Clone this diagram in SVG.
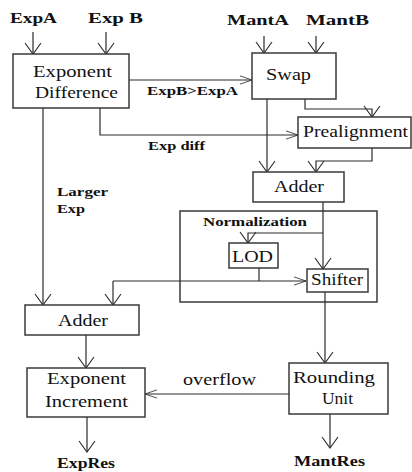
<svg xmlns="http://www.w3.org/2000/svg" width="412" height="472" viewBox="0 0 412 472">
  <style>
    .box { fill: #ffffff; stroke: #3a3a3a; stroke-width: 1.5; }
    .wire { fill: none; stroke: #2a2a2a; stroke-width: 1.2; }
    .lbl { font-size: 16px; fill: #111; }
    .io { font-size: 14px; font-weight: bold; fill: #111; }
    .sig { font-size: 13px; font-weight: bold; fill: #111; }
  </style>
  <defs>
    <marker id="v" markerUnits="userSpaceOnUse" markerWidth="30" markerHeight="30" refX="0" refY="0" viewBox="-15 -15 30 30" orient="auto" overflow="visible">
      <path d="M-11,-8 L0,0 L-11,8" fill="none" stroke="#2a2a2a" stroke-width="1.1"/>
    </marker>
    <marker id="h" markerUnits="userSpaceOnUse" markerWidth="30" markerHeight="30" refX="0" refY="0" viewBox="-20 -15 40 30" orient="auto" overflow="visible">
      <path d="M-16,-5.5 L0,0 L-16,5.5" fill="none" stroke="#2a2a2a" stroke-width="1.1"/>
    </marker>
  </defs>
  <rect width="412" height="472" fill="#ffffff"/>

  <g font-family="Liberation Serif, Times New Roman, serif">
  <!-- input / output labels -->
  <text class="io" x="10" y="23" textLength="47" lengthAdjust="spacingAndGlyphs">ExpA</text>
  <text class="io" x="88" y="23" textLength="55" lengthAdjust="spacingAndGlyphs">Exp B</text>
  <text class="io" x="227" y="25" textLength="62" lengthAdjust="spacingAndGlyphs">MantA</text>
  <text class="io" x="306" y="25" textLength="63" lengthAdjust="spacingAndGlyphs">MantB</text>
  <text class="io" x="57" y="468" textLength="58" lengthAdjust="spacingAndGlyphs">ExpRes</text>
  <text class="io" x="294" y="466" textLength="71" lengthAdjust="spacingAndGlyphs">MantRes</text>

  <!-- normalization stage frame -->
  <g id="normalization">
    <rect class="box" x="180" y="211" width="197" height="91"/>
    <text class="sig" x="203" y="226" textLength="104" lengthAdjust="spacingAndGlyphs">Normalization</text>
  </g>

  <g id="connectors">
    <path class="wire" d="M33,32 V54" marker-end="url(#v)"/>
    <path class="wire" d="M106,32 V54" marker-end="url(#v)"/>
    <path class="wire" d="M264,36 V53" marker-end="url(#v)"/>
    <path class="wire" d="M316,36 V53" marker-end="url(#v)"/>
    <path class="wire" d="M129,80 H252" marker-end="url(#h)"/>
    <path class="wire" d="M100,108 V135 H298" marker-end="url(#h)"/>
    <path class="wire" d="M43,108 V305" marker-end="url(#v)"/>
    <path class="wire" d="M267,99 V172" marker-end="url(#v)"/>
    <path class="wire" d="M305,99 V109 H372 V117" marker-end="url(#v)"/>
    <path class="wire" d="M372,148 V161 H316 V172" marker-end="url(#v)"/>
    <path class="wire" d="M323,202 V269" marker-end="url(#v)"/>
    <path class="wire" d="M323,233 H248 V243" marker-end="url(#v)"/>
    <path class="wire" d="M259,268 V281"/>
    <path class="wire" d="M113,281 H306" marker-end="url(#h)"/>
    <path class="wire" d="M113,281 V305" marker-end="url(#v)"/>
    <path class="wire" d="M325,292 V363" marker-end="url(#v)"/>
    <path class="wire" d="M86,335 V368" marker-end="url(#v)"/>
    <path class="wire" d="M289,394 H145" marker-end="url(#h)"/>
    <path class="wire" d="M87,417 V452" marker-end="url(#v)"/>
    <path class="wire" d="M330,414 V448" marker-end="url(#v)"/>
    <text class="sig" x="147" y="95" textLength="91" lengthAdjust="spacingAndGlyphs">ExpB&gt;ExpA</text>
    <text class="sig" x="148" y="150" textLength="57" lengthAdjust="spacingAndGlyphs">Exp diff</text>
    <text class="sig" x="57" y="196" textLength="51" lengthAdjust="spacingAndGlyphs">Larger</text>
    <text class="sig" x="57" y="213" textLength="28" lengthAdjust="spacingAndGlyphs">Exp</text>
    <text class="lbl" x="183" y="385" textLength="73" lengthAdjust="spacingAndGlyphs">overflow</text>
  </g>

  <g id="exp-difference">
    <rect class="box" x="13" y="54" width="116" height="54"/>
    <text class="lbl" x="33" y="77" textLength="79" lengthAdjust="spacingAndGlyphs">Exponent</text>
    <text class="lbl" x="35" y="98" textLength="83" lengthAdjust="spacingAndGlyphs">Difference</text>
  </g>

  <g id="swap">
    <rect class="box" x="252" y="53" width="84" height="46"/>
    <text class="lbl" x="266" y="80" textLength="45" lengthAdjust="spacingAndGlyphs">Swap</text>
  </g>

  <g id="prealignment">
    <rect class="box" x="298" y="117" width="113" height="31"/>
    <text class="lbl" x="303" y="137" textLength="105" lengthAdjust="spacingAndGlyphs">Prealignment</text>
  </g>

  <g id="mant-adder">
    <rect class="box" x="253" y="172" width="91" height="30"/>
    <text class="lbl" x="274" y="192" textLength="50" lengthAdjust="spacingAndGlyphs">Adder</text>
  </g>

  <g id="lod">
    <rect class="box" x="229" y="243" width="49" height="25"/>
    <text class="lbl" x="232" y="262" textLength="41" lengthAdjust="spacingAndGlyphs">LOD</text>
  </g>

  <g id="shifter">
    <rect class="box" x="307" y="269" width="61" height="23"/>
    <text class="lbl" x="311" y="285" textLength="52" lengthAdjust="spacingAndGlyphs">Shifter</text>
  </g>

  <g id="exp-adder">
    <rect class="box" x="25" y="305" width="114" height="30"/>
    <text class="lbl" x="58" y="326" textLength="50" lengthAdjust="spacingAndGlyphs">Adder</text>
  </g>

  <g id="exp-increment">
    <rect class="box" x="27" y="368" width="118" height="49"/>
    <text class="lbl" x="47" y="384" textLength="79" lengthAdjust="spacingAndGlyphs">Exponent</text>
    <text class="lbl" x="45" y="407" textLength="83" lengthAdjust="spacingAndGlyphs">Increment</text>
  </g>

  <g id="rounding">
    <rect class="box" x="289" y="363" width="99" height="51"/>
    <text class="lbl" x="293" y="383" textLength="82" lengthAdjust="spacingAndGlyphs">Rounding</text>
    <text class="lbl" x="322" y="404" textLength="31" lengthAdjust="spacingAndGlyphs">Unit</text>
  </g>
  </g>
</svg>
